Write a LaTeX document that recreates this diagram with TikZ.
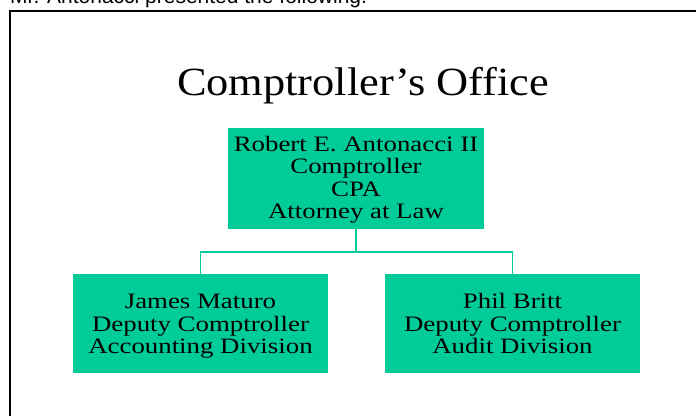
\documentclass[tikz,border=0pt]{standalone}
\usepackage{fontspec}
\setmainfont{Liberation Serif}
\newfontfamily\arialfont{Liberation Sans}
\newfontfamily\boxfont[FakeStretch=1.22]{Liberation Serif}
\newfontfamily\titlefont[FakeStretch=1.11]{Liberation Serif}
\definecolor{boxgreen}{HTML}{00CC99}
\begin{document}
\begin{tikzpicture}[x=1pt,y=-1pt,
  orgbox/.style={fill=boxgreen, draw=none, inner sep=0pt},
  orgtext/.style={inner sep=0pt, align=center,
    font=\boxfont\fontsize{22}{22.5}\selectfont},
  link/.style={draw=boxgreen, line width=1.6pt}]
  \useasboundingbox (0,0) rectangle (696,415);
  \clip (0,0) rectangle (696,415);

  % heading line of the page, cut by the top edge
  \node[anchor=base west, inner sep=0pt, font=\arialfont\fontsize{21}{21}\selectfont]
    (intro) at (10,4) {Mr. Antonacci presented the following:};

  % slide frame
  \draw[line width=2pt] (700,11) -- (10,11) -- (10,420);

  % title
  \node[anchor=base, inner sep=0pt, font=\titlefont\fontsize{40}{40}\selectfont]
    (title) at (363,95) {Comptroller’s Office};

  % boxes
  \node[orgbox, minimum width=256pt, minimum height=101pt] (top) at (356,178.5) {};
  \node[orgbox, minimum width=255pt, minimum height=99pt] (left) at (200.5,323.5) {};
  \node[orgbox, minimum width=255pt, minimum height=99pt] (right) at (512.5,323.5) {};

  % box texts
  \node[orgtext] (toptext) at ([yshift=-2pt]top.center)
    {\strut Robert E. Antonacci II\\Comptroller\\CPA\\Attorney at Law\strut};
  \node[orgtext] (lefttext) at ([yshift=-3pt]left.center)
    {\strut James Maturo\\Deputy Comptroller\\Accounting Division\strut};
  \node[orgtext] (righttext) at ([yshift=-3pt]right.center)
    {\strut Phil Britt\\Deputy Comptroller\\Audit Division\strut};

  % connectors
  \coordinate (bus) at (356,252);
  \draw[link] (top.south) -- (bus);
  \draw[link] (left.north) |- (bus) -| (right.north);
\end{tikzpicture}
\end{document}
